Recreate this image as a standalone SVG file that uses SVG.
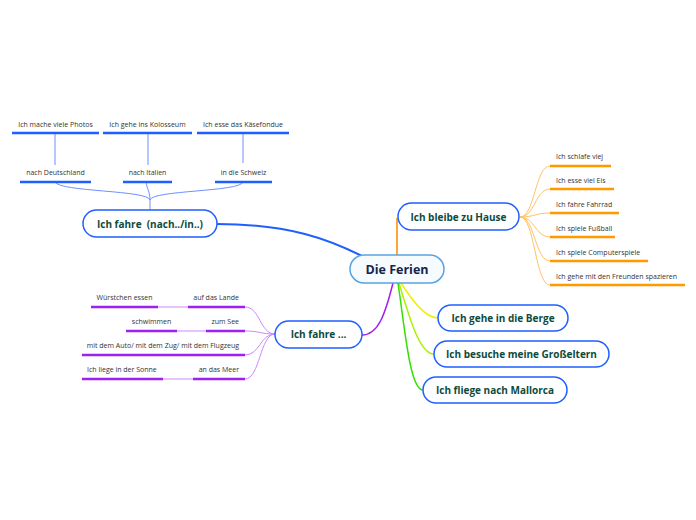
<svg xmlns="http://www.w3.org/2000/svg" width="696" height="520" viewBox="0 0 696 520">
<style>
.node{fill:#fff;stroke:#1f5fff;stroke-width:1.5}
.center{fill:#f5fbff;stroke:#5aa2e0;stroke-width:1.5}
.nt{font-family:"Open Sans",sans-serif;font-weight:bold;font-size:10px;fill:#0e4a3c;text-anchor:middle}
.ct{font-family:"Open Sans",sans-serif;font-weight:bold;font-size:12.5px;fill:#14254d;text-anchor:middle}
.st{font-family:"Open Sans",sans-serif;font-size:7px;fill:#333}
.ub{stroke:#1f5fff;stroke-width:2.5;fill:none}
.lb{stroke:#6f8fff;stroke-width:1;fill:none}
.up{stroke:#a020f0;stroke-width:2.5;fill:none}
.lp{stroke:#cc88ff;stroke-width:1;fill:none}
.uo{stroke:#ff9900;stroke-width:2.5;fill:none}
.lo{stroke:#ffc266;stroke-width:1;fill:none}
</style>
<g id="connectors">
<path d="M217,224 C290,224 330,240 362,256" stroke="#1f5fff" stroke-width="2" fill="none"/>
<path d="M397,256 L397,218" stroke="#ffa733" stroke-width="2" fill="none"/>
<path d="M393,283 C385,315 378,335 362,335" stroke="#a020f0" stroke-width="1.5" fill="none"/>
<path d="M401,283 C412,300 425,318 438,318" stroke="#f0f000" stroke-width="1.5" fill="none"/>
<path d="M399,283 C410,320 420,354 434,354" stroke="#aaf000" stroke-width="1.5" fill="none"/>
<path d="M398,283 C405,330 410,390 423,390" stroke="#33e000" stroke-width="1.5" fill="none"/>
<path class="lb" d="M150,210 L150,200 C150,190 145,186 147,182"/>
<path class="lb" d="M150,200 C148,190 60,192 55,182"/>
<path class="lb" d="M150,200 C152,190 240,192 243,182"/>
<path class="lb" d="M55,165 L55,133"/>
<path class="lb" d="M148,165 L148,133"/>
<path class="lb" d="M243,163 L243,133"/>
<path class="lo" d="M520,217 C535,217 535,166 550,166"/>
<path class="lo" d="M520,217 C535,217 535,189 550,189"/>
<path class="lo" d="M520,217 C535,217 535,213 550,213"/>
<path class="lo" d="M520,217 C535,217 535,237 550,237"/>
<path class="lo" d="M520,217 C535,217 535,261 550,261"/>
<path class="lo" d="M520,217 C535,217 535,285 550,285"/>
<path class="lp" d="M275,334 C260,334 260,307 245,307"/>
<path class="lp" d="M275,334 C260,334 260,331 245,331"/>
<path class="lp" d="M275,334 C260,334 260,355 245,355"/>
<path class="lp" d="M275,334 C260,334 260,379 245,379"/>
<path class="lp" d="M158,307 L188,307" stroke-width="1.5"/>
<path class="lp" d="M177,331 L206,331" stroke-width="1.5"/>
<path class="lp" d="M163,379 L193,379" stroke-width="1.5"/>
</g>
<g id="n-center"><rect class="center" x="350" y="255" width="94" height="28" rx="14"/><text class="ct" x="397" y="273.5">Die Ferien</text></g>
<g id="n-nach"><rect class="node" x="83" y="210" width="134" height="27" rx="13.5"/><text class="nt" x="150" y="227.5">Ich fahre &#160;(nach../in..)</text></g>
<g id="n-hause"><rect class="node" x="398" y="203" width="121" height="27" rx="13.5"/><text class="nt" x="458.5" y="220.5">Ich bleibe zu Hause</text></g>
<g id="n-fahre"><rect class="node" x="275" y="321" width="87" height="27" rx="13.5"/><text class="nt" x="318.5" y="338">Ich fahre ...</text></g>
<g id="n-berge"><rect class="node" x="438" y="305" width="130" height="26" rx="13"/><text class="nt" x="503" y="321.5">Ich gehe in die Berge</text></g>
<g id="n-gross"><rect class="node" x="434" y="341" width="175" height="26" rx="13"/><text class="nt" x="521.5" y="357.5">Ich besuche meine Großeltern</text></g>
<g id="n-mallorca"><rect class="node" x="423" y="377" width="144" height="26" rx="13"/><text class="nt" x="495" y="393.5">Ich fliege nach Mallorca</text></g>
<g id="n-deutschland"><path class="ub" d="M20,182 H91"/><text class="st" x="55.5" y="175" text-anchor="middle">nach Deutschland</text></g>
<g id="n-italien"><path class="ub" d="M123,182 H172"/><text class="st" x="147.5" y="175" text-anchor="middle">nach Italien</text></g>
<g id="n-schweiz"><path class="ub" d="M215,182 H272"/><text class="st" x="243.5" y="175" text-anchor="middle">in die Schweiz</text></g>
<g id="n-photos"><path class="ub" d="M12,133 H99"/><text class="st" x="55.5" y="127" text-anchor="middle">Ich mache viele Photos</text></g>
<g id="n-kolosseum"><path class="ub" d="M103,133 H192"/><text class="st" x="147.5" y="127" text-anchor="middle">Ich gehe ins Kolosseum</text></g>
<g id="n-fondue"><path class="ub" d="M197,133 H289"/><text class="st" x="243" y="127" text-anchor="middle">Ich esse das Käsefondue</text></g>
<g id="n-schlafe"><path class="uo" d="M550,166 H611"/><text class="st" x="556" y="159">Ich schlafe viej</text></g>
<g id="n-eis"><path class="uo" d="M550,189 H614"/><text class="st" x="556" y="183">Ich esse viel Eis</text></g>
<g id="n-fahrrad"><path class="uo" d="M550,213 H619"/><text class="st" x="556" y="207">Ich fahre Fahrrad</text></g>
<g id="n-fussball"><path class="uo" d="M550,237 H615"/><text class="st" x="556" y="231">Ich spiele Fußball</text></g>
<g id="n-computer"><path class="uo" d="M550,261 H648"/><text class="st" x="556" y="255">Ich spiele Computerspiele</text></g>
<g id="n-spazieren"><path class="uo" d="M550,285 H685"/><text class="st" x="556" y="279">Ich gehe mit den Freunden spazieren</text></g>
<g id="n-lande"><path class="up" d="M188,307 H245"/><text class="st" x="239" y="300" text-anchor="end">auf das Lande</text></g>
<g id="n-wuerstchen"><path class="up" d="M91,307 H158"/><text class="st" x="124.5" y="300" text-anchor="middle">Würstchen essen</text></g>
<g id="n-see"><path class="up" d="M206,331 H245"/><text class="st" x="239" y="324" text-anchor="end">zum See</text></g>
<g id="n-schwimmen"><path class="up" d="M126,331 H177"/><text class="st" x="151.5" y="324" text-anchor="middle">schwimmen</text></g>
<g id="n-auto"><path class="up" d="M82,355 H245"/><text class="st" x="239" y="348" text-anchor="end">mit dem Auto/ mit dem Zug/ mit dem Flugzeug</text></g>
<g id="n-meer"><path class="up" d="M193,379 H245"/><text class="st" x="239" y="372" text-anchor="end">an das Meer</text></g>
<g id="n-sonne"><path class="up" d="M82,379 H163"/><text class="st" x="87" y="372">Ich liege in der Sonne</text></g>
</svg>
